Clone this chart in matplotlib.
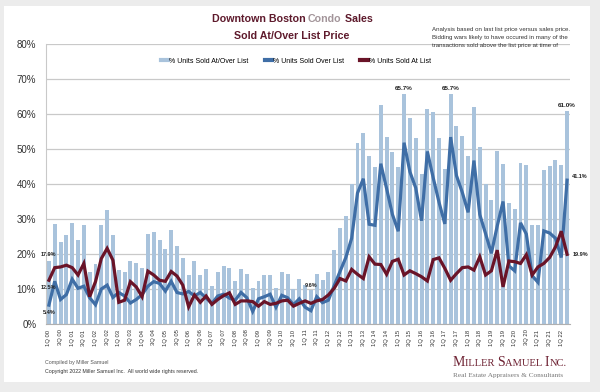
import matplotlib
matplotlib.use("Agg")
import matplotlib.pyplot as plt
import matplotlib.patches as patches
from matplotlib.lines import Line2D
import numpy as np

plt.rcParams['font.family'] = ['Liberation Sans', 'DejaVu Sans']

# quarters 1Q 00 .. 2Q 22
quarters = [f"{q}Q {y:02d}" for y in range(0, 23) for q in (1, 2, 3, 4)][:90]

# % Units Sold At/Over List (bars)
at_over = [17.9, 28.5, 23.5, 25.4, 29.0, 24.1, 28.2, 14.9, 17.1, 28.2,
           32.7, 25.4, 15.4, 14.9, 17.9, 17.3, 15.9, 25.6, 26.3, 24.1,
           21.3, 27.0, 22.4, 19.0, 13.9, 17.9, 13.9, 15.7, 10.9, 14.8,
           16.5, 15.9, 12.3, 15.7, 14.3, 10.2, 12.3, 13.9, 13.9, 10.4,
           14.8, 14.3, 10.1, 12.9, 11.1, 9.6, 14.2, 12.7, 14.9, 21.1,
           27.5, 30.9, 40.1, 51.6, 54.5, 47.9, 45.0, 62.6, 53.4, 49.1,
           44.8, 65.7, 58.8, 53.2, 43.0, 61.4, 60.5, 53.2, 44.3, 65.7,
           56.7, 53.7, 48.0, 62.1, 50.7, 40.1, 35.3, 49.4, 45.8, 34.6,
           33.0, 46.1, 45.5, 28.2, 28.2, 43.9, 45.1, 47.0, 45.5, 61.0]

# % Units Sold Over List
over = [5.4, 12.2, 7.0, 8.4, 12.8, 10.2, 10.8, 7.5, 5.5, 10.0,
        11.1, 7.6, 9.0, 8.0, 6.0, 7.0, 8.4, 10.8, 12.1, 11.6,
        9.4, 12.2, 9.0, 8.6, 9.3, 8.0, 9.0, 7.4, 5.9, 8.0,
        8.5, 7.4, 6.8, 9.0, 7.5, 3.6, 7.2, 7.8, 8.5, 4.8,
        8.2, 7.5, 5.5, 7.2, 4.8, 3.8, 7.8, 6.1, 6.8, 11.0,
        15.0, 19.0, 24.5, 37.4, 41.5, 28.5, 28.2, 45.8, 38.7, 31.3,
        26.5, 51.8, 43.5, 38.9, 29.5, 49.3, 41.8, 34.8, 28.6, 53.4,
        42.4, 37.6, 31.9, 46.7, 31.3, 25.8, 20.2, 28.0, 35.0, 16.6,
        15.2, 28.9, 25.7, 13.8, 11.9, 26.6, 26.0, 24.5, 19.0, 41.1]

# % Units Sold At List
at_list = [12.5, 16.1, 16.3, 16.8, 16.1, 14.0, 17.3, 7.8, 12.1, 18.7,
           21.6, 18.2, 6.2, 6.8, 12.1, 10.6, 7.8, 15.1, 14.0, 12.5,
           12.2, 15.0, 13.7, 11.1, 4.9, 8.3, 6.2, 8.0, 5.6, 7.0,
           8.1, 8.9, 5.6, 6.6, 6.6, 6.4, 5.1, 6.4, 5.6, 5.9,
           6.6, 6.8, 5.1, 5.9, 6.6, 5.9, 6.6, 7.0, 8.3, 10.2,
           13.0, 12.3, 15.6, 14.2, 13.0, 19.2, 17.1, 17.0, 14.2, 17.9,
           18.5, 14.0, 15.2, 14.4, 13.5, 12.3, 18.4, 18.9, 15.9, 12.5,
           14.4, 16.1, 16.3, 15.4, 19.2, 14.0, 15.2, 21.1, 10.6, 18.0,
           17.8, 17.3, 19.8, 14.0, 16.3, 17.3, 19.0, 22.0, 26.5, 19.9]

notes = ["Analysis based on last list price versus sales price.",
         "Bidding wars likely to have occured in many of the",
         "transactions sold above the list price at time of"]

BAR_C = '#a9c3dc'
OVER_C = '#3f6ea6'
AT_C = '#6a1428'
MAROON = '#5e1a2c'

W, H = 600, 392


def fx(px):
    return px / W


def fy(py):
    return 1 - py / H


def draw_runs(fig, x, y, runs, center=True, **kw):
    """place text pieces one after another (mixed colors / sizes)"""
    r = fig.canvas.get_renderer()
    texts, widths = [], []
    for s, size, color, extra in runs:
        t = fig.text(0, y, s, fontsize=size, color=color, va='baseline', **extra, **kw)
        # width incl. trailing spaces: measure with a marker glyph after the text
        a = fig.text(0, 0, 'x' + s + 'x', fontsize=size, **extra, **kw)
        b = fig.text(0, 0, 'xx', fontsize=size, **extra, **kw)
        w = a.get_window_extent(r).width - b.get_window_extent(r).width
        a.remove()
        b.remove()
        texts.append(t)
        widths.append(w / fig.bbox.width)
    start = x - sum(widths) / 2 if center else x
    for t, w in zip(texts, widths):
        t.set_x(start)
        start += w


fig = plt.figure(figsize=(6, 3.92), dpi=100)
fig.patch.set_facecolor('#ececec')
fig.add_artist(patches.Rectangle((fx(4), fy(382)), fx(586), (382 - 6) / H,
                                 transform=fig.transFigure, facecolor='white',
                                 edgecolor='none', zorder=-10))

ax = fig.add_axes([fx(46), fy(324), fx(524), 280 / H])
ax.set_facecolor('none')

x = np.arange(len(quarters))
ax.bar(x, at_over, width=0.68, color=BAR_C, zorder=2)
ax.plot(x, over, color=OVER_C, lw=2.3, zorder=3, solid_joinstyle='miter')
ax.plot(x, at_list, color=AT_C, lw=2.3, zorder=4, solid_joinstyle='miter')

ax.set_xlim(-0.5, len(quarters) - 0.5)
ax.set_ylim(0, 80)
ax.set_yticks(np.arange(0, 81, 10))
ax.set_yticklabels([f"{v}%" for v in range(0, 81, 10)], fontsize=7, color='#333333')
ax.set_xticks(x[::2])
ax.set_xticklabels(quarters[::2], rotation=90, fontsize=4.2, color='#333333')
ax.tick_params(axis='y', length=0, pad=7)
ax.tick_params(axis='x', length=0, pad=4)
ax.grid(axis='y', color='#c9c9c9', lw=0.9, zorder=0)
for s in ('top', 'right'):
    ax.spines[s].set_visible(False)
ax.spines['left'].set_color('#c9c9c9')
ax.spines['bottom'].set_color('#b0b0b0')

# data labels
lab = dict(fontsize=4, fontweight='bold', color='#222222')
ax.text(0, at_over[0] + 1.3, f"{at_over[0]:.1f}%", ha='center', va='bottom', **lab)
ax.text(0, at_list[0] - 2.0, f"{at_list[0]:.1f}%", ha='center', va='center', **lab)
ax.text(0, over[0] - 2.2, f"{over[0]:.1f}%", ha='center', va='center', **lab)
ax.text(45, at_over[45] + 0.6, f"{at_over[45]:.1f}%", ha='center', va='bottom', **lab)
for i in (61, 69, 89):
    ax.text(i, at_over[i] + 0.8, f"{at_over[i]:.1f}%", ha='center', va='bottom',
            fontsize=4.5, fontweight='bold', color='#222222')
ax.text(89.9, over[-1] + 1.1, f"{over[-1]:.1f}%", ha='left', va='center', **lab)
ax.text(89.9, at_list[-1], f"{at_list[-1]:.1f}%", ha='left', va='center', **lab)

# legend
handles = [Line2D([], [], color=BAR_C, lw=3),
           Line2D([], [], color=OVER_C, lw=3),
           Line2D([], [], color=AT_C, lw=3)]
ax.legend(handles, ['% Units Sold At/Over List', '% Units Sold Over List',
                    '% Units Sold At List'],
          loc='center', bbox_to_anchor=(0.477, 0.939), ncol=3, frameon=False,
          fontsize=5, handlelength=1.1, handletextpad=0.15, columnspacing=2.3)

# title
draw_runs(fig, fx(292), fy(22), [("Downtown Boston ", 7.7, MAROON, {}),
                                 ("Condo", 7.7, '#a3959a', {}),
                                 (" Sales", 7.7, MAROON, {})], fontweight='bold')
fig.text(fx(292), fy(39), "Sold At/Over List Price", fontsize=7.7, fontweight='bold',
         color=MAROON, ha='center', va='baseline')

for k, line in enumerate(notes):
    fig.text(fx(432), fy(30.5 + 8 * k), line, fontsize=4.4, color='#333333', va='baseline')

fig.text(fx(45), fy(364), "Compiled by Miller Samuel", fontsize=3.8, color='#555555',
         va='baseline')
fig.text(fx(45), fy(373), "Copyright 2022 Miller Samuel Inc.  All world wide rights reserved.",
         fontsize=3.8, color='#333333', va='baseline')

# logo
serif = {'family': 'Liberation Serif'}
logo_c = '#6e2233'
draw_runs(fig, fx(453), fy(366), [("M", 10, logo_c, serif), ("ILLER ", 7.6, logo_c, serif),
                                  ("S", 10, logo_c, serif), ("AMUEL ", 7.6, logo_c, serif),
                                  ("I", 10, logo_c, serif), ("NC.", 7.6, logo_c, serif)],
          center=False)
fig.text(fx(453), fy(377), "Real Estate Appraisers & Consultants", fontsize=5.2,
         color='#777777', va='baseline', family='Liberation Serif')

fig.savefig('out.png', dpi=100, facecolor=fig.get_facecolor())
